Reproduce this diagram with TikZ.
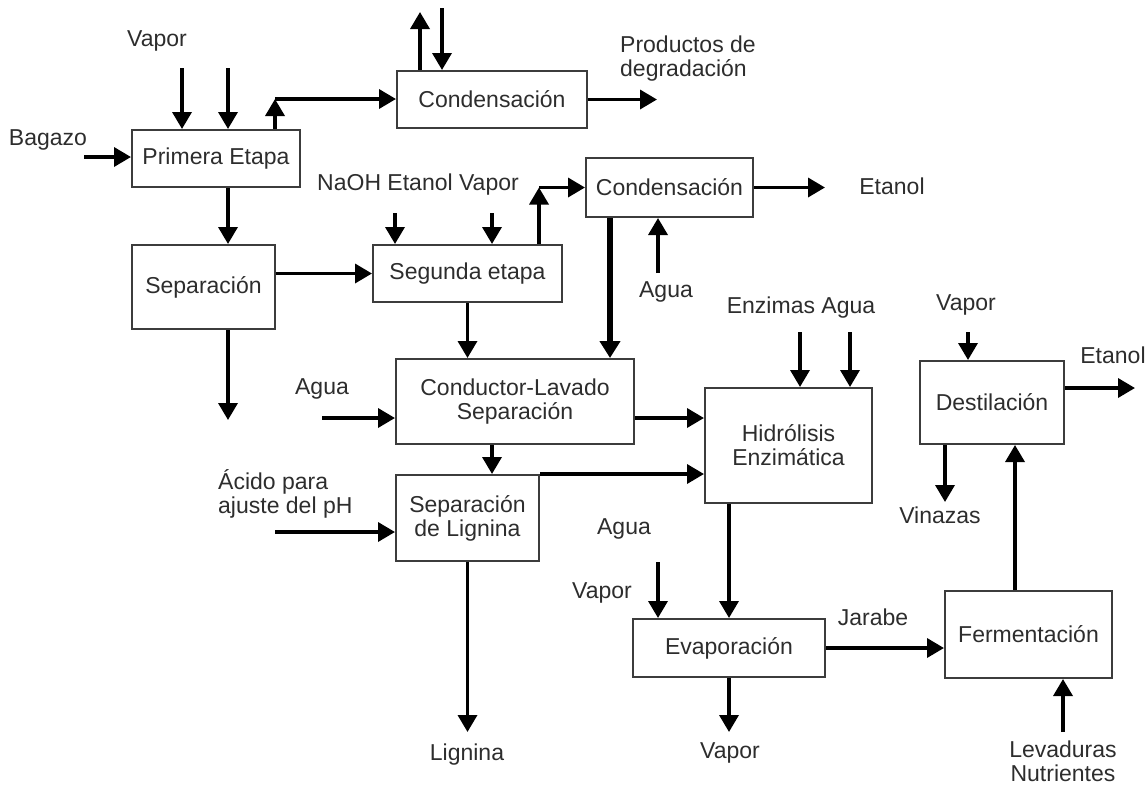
\documentclass[tikz,border=0pt]{standalone}
\usepackage{fontspec}
\setmainfont{Liberation Sans}
\usetikzlibrary{arrows.meta}
\definecolor{txtgray}{RGB}{45,45,45}
\definecolor{boxgray}{RGB}{60,60,60}
\begin{document}
\begin{tikzpicture}[x=1pt,y=-1pt,
  every node/.style={font=\fontsize{23}{24}\selectfont, text=txtgray, inner sep=0pt},
  proc/.style={draw=boxgray, line width=2pt, rectangle, align=center},
  flow/.style={line width=3.5pt, draw=black, -{Triangle[width=19pt,length=17pt]}},
  flowthick/.style={line width=5.5pt, draw=black, -{Triangle[width=20pt,length=17pt]}},
  lbl/.style={align=center}]
\useasboundingbox (0,0) rectangle (1148,785);
% boxes
\node[proc, minimum width=168pt, minimum height=57pt] (pe) at (216,158.5) {Primera Etapa};
\node[proc, minimum width=190pt, minimum height=57pt] (c1) at (492,99.5) {Condensación};
\node[proc, minimum width=143pt, minimum height=84pt] (sep) at (203.5,287) {Separación};
\node[proc, minimum width=189pt, minimum height=57pt] (se) at (467.5,273.5) {Segunda etapa};
\node[proc, minimum width=167pt, minimum height=59pt] (c2) at (669.5,187.5) {Condensación};
\node[proc, minimum width=238pt, minimum height=85pt] (cl) at (515,401.5) {Conductor-Lavado\\Separación};
\node[proc, minimum width=143pt, minimum height=86pt] (sl) at (467.5,518) {Separación\\de Lignina};
\node[proc, minimum width=167pt, minimum height=115pt] (hi) at (788.5,445.5) {Hidrólisis\\Enzimática};
\node[proc, minimum width=144pt, minimum height=83pt] (de) at (992,402.5) {Destilación};
\node[proc, minimum width=192pt, minimum height=58pt] (ev) at (729,648) {Evaporación};
\node[proc, minimum width=167pt, minimum height=87pt] (fe) at (1028.5,634.5) {Fermentación};
% labels
\node[lbl] (lvap1) at (157,41) {Vapor};
\node[lbl] (lbag) at (48,140) {Bagazo};
\node[align=left, anchor=west] (lprod) at (620,59) {Productos de\\degradación};
\node[lbl] (lnaoh) at (418,185) {NaOH Etanol Vapor};
\node[lbl] (let1) at (892,186) {Etanol};
\node[lbl] (lag1) at (666,292) {Agua};
\node[lbl] (lag2) at (322,389) {Agua};
\node[align=left, anchor=west] (lacid) at (218,493.5) {Ácido para\\ajuste del pH};
\node[lbl] (lenz) at (801,308) {Enzimas Agua};
\node[lbl] (lvap2) at (966,305) {Vapor};
\node[lbl] (let2) at (1113,355) {Etanol};
\node[lbl] (lvin) at (940,515) {Vinazas};
\node[lbl] (lag3) at (624,529) {Agua};
\node[lbl] (lvap3) at (602,593) {Vapor};
\node[lbl] (ljar) at (873,617) {Jarabe};
\node[lbl] (llig) at (467,755) {Lignina};
\node[lbl] (lvap4) at (730,753) {Vapor};
\node[lbl] (llev) at (1063,761) {Levaduras\\Nutrientes};
% free ends
\coordinate (v1) at (182,68);
\coordinate (v2) at (228,68);
\coordinate (bag) at (84,157);
\coordinate (j1) at (275,99);
\coordinate (o1) at (420,12);
\coordinate (i1) at (442,8);
\coordinate (pd) at (657,99.5);
\coordinate (sd) at (228,420);
\coordinate (n1) at (395,213);
\coordinate (n2) at (492,213);
\coordinate (j2) at (539,187.5);
\coordinate (et1) at (825,187.5);
\coordinate (ag1) at (658,273);
\coordinate (ag2) at (322,418);
\coordinate (ac) at (275,532);
\coordinate (lg) at (467.5,732);
\coordinate (e1) at (800,332);
\coordinate (e2) at (850,332);
\coordinate (av) at (658,562);
\coordinate (vd) at (968,332);
\coordinate (et2) at (1135,388);
\coordinate (vz) at (945,502);
\coordinate (lv) at (1063,732);
% connectors
\draw[flow] (v1) -- (v1 |- pe.north);
\draw[flow] (v2) -- (v2 |- pe.north);
\draw[flow] (bag) -- (bag -| pe.west);
\draw[flow] (v2 |- pe.south) -- (v2 |- sep.north);
\draw[flow] (j1 |- pe.north) -- (j1);
\draw[flow] (j1) -- (j1 -| c1.west);
\draw[flow] (o1 |- c1.north) -- (o1);
\draw[flow] (i1) -- (i1 |- c1.north);
\draw[flow] (c1.east) -- (pd);
\draw[flow] (sep.east |- se.west) -- (se.west);
\draw[flow] (v2 |- sep.south) -- (sd);
\draw[flow] (n1) -- (n1 |- se.north);
\draw[flow] (n2) -- (n2 |- se.north);
\draw[flow] (j2 |- se.north) -- (j2);
\draw[flow] (j2) -- (j2 -| c2.west);
\draw[flow] (c2.east) -- (et1);
\draw[flowthick] ([xshift=-59.5pt]c2.south) -- ([xshift=-59.5pt]c2.south |- cl.north);
\draw[flow] (ag1) -- (ag1 |- c2.south);
\draw[flow] (se.south) -- (se.south |- cl.north);
\draw[flow] (ag2) -- (ag2 -| cl.west);
\draw[flow] (ag2 -| cl.east) -- (ag2 -| hi.west);
\draw[flow] (n2 |- cl.south) -- (n2 |- sl.north);
\draw[flow] (sl.north east) -- (sl.north east -| hi.west);
\draw[flow] (ac) -- (ac -| sl.west);
\draw[flow] (sl.south) -- (lg);
\draw[flow] (e1) -- (e1 |- hi.north);
\draw[flow] (e2) -- (e2 |- hi.north);
\draw[flow] (ev.north |- hi.south) -- (ev.north);
\draw[flow] (av) -- (av |- ev.north);
\draw[flow] (ev.south) -- (ev.south |- lg);
\draw[flow] (ev.east) -- (ev.east -| fe.west);
\draw[flow] ([xshift=-13.5pt]fe.north) -- ([xshift=-13.5pt]fe.north |- de.south);
\draw[flow] (vd) -- (vd |- de.north);
\draw[flow] (et2 -| de.east) -- (et2);
\draw[flow] (vz |- de.south) -- (vz);
\draw[flow] (lv) -- (lv |- fe.south);
\end{tikzpicture}
\end{document}
